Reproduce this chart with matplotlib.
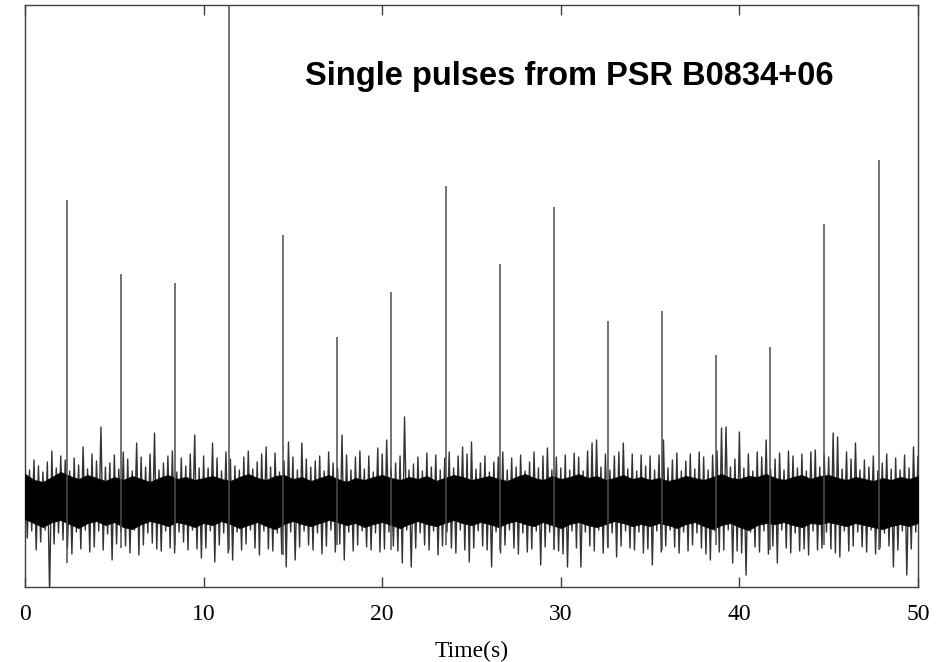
import numpy as np
import matplotlib
matplotlib.use('Agg')
from matplotlib import pyplot as plt

# pulse times (s), peak heights and the dip each pulse leaves under the band
pulse_t = [2.35, 5.37, 8.40, 11.42, 14.45, 17.47, 20.49, 23.57,
           26.60, 29.62, 32.64, 35.67, 38.69, 41.71, 44.74, 47.82]
pulse_peak = [30.0, 22.6, 21.7, 52.0, 26.5, 16.3, 20.8, 31.4,
              23.6, 29.3, 17.9, 18.9, 14.5, 15.3, 27.6, 34.0]
pulse_dip = [-6.3, -4.8, -4.5, -5.0, -5.5, -4.5, -5.0, -4.5,
             -5.0, -5.0, -4.8, -5.0, -4.5, -5.0, -4.5, -5.0]

# noise samples, read every 0.25 s (upper swing, then lower swing)
spike_t = [i * 0.25 for i in range(201)]
spike_hi = [
    4.3, 3.0, 4.0, 3.4, 2.8, 3.8, 4.9, 3.2, 4.4, 4.0, 2.9, 4.2, 3.5, 5.3, 3.1, 4.6, 3.9, 7.3, 3.3, 3.7,
    4.5, 3.1, 4.8, 4.1, 2.9, 5.7, 4.3, 3.3, 4.6, 6.7, 3.0, 3.7, 4.4, 4.9, 2.8, 4.2, 3.4, 4.6, 6.5, 3.2,
    4.4, 3.2, 5.7, 4.2, 2.9, 4.8, 4.1, 3.4, 3.0, 4.3, 4.9, 3.1, 3.8, 4.6, 5.3, 3.3, 4.7, 2.8, 3.9, 5.8,
    4.3, 3.0, 5.7, 4.1, 3.3, 3.9, 4.4, 2.9, 4.8, 3.7, 3.2, 6.5, 4.5, 3.0, 4.3, 4.9, 3.1, 4.4, 2.8, 5.2,
    4.6, 6.0, 3.1, 3.7, 4.4, 8.3, 3.0, 3.6, 4.3, 2.9, 4.7, 3.3, 4.5, 3.0, 4.2, 4.8, 3.2, 4.4, 5.3, 4.6,
    5.8, 3.1, 3.7, 4.4, 2.8, 3.8, 4.3, 4.8, 3.0, 4.2, 3.3, 4.5, 2.9, 3.8, 4.8, 3.2, 4.4, 5.2, 3.0, 4.3,
    3.2, 4.5, 3.0, 4.7, 4.3, 2.9, 4.9, 5.7, 6.0, 3.3, 4.6, 3.0, 4.4, 4.8, 5.7, 3.1, 4.6, 2.9, 4.5, 3.4,
    4.4, 3.0, 4.5, 6.0, 3.2, 4.0, 4.7, 2.9, 3.9, 4.6, 3.1, 4.8, 4.3, 3.0, 4.5, 4.9, 7.2, 7.3, 3.3, 4.1,
    6.8, 3.2, 4.6, 2.9, 4.8, 4.3, 6.0, 3.1, 4.1, 4.7, 3.0, 4.9, 4.4, 3.2, 4.6, 2.9, 4.8, 5.0, 3.3, 4.5,
    4.3, 6.7, 6.3, 3.1, 4.8, 4.1, 5.7, 3.0, 4.0, 3.3, 4.4, 2.9, 3.7, 4.6, 3.1, 4.2, 3.0, 4.5, 3.2, 5.3, 4.4]
spike_lo = [
    -3.8, -3.1, -5.0, -4.2, -3.0, -9.5, -4.4, -3.3, -4.0, -4.8, -5.4, -3.2, -4.9, -3.0, -5.2, -4.7, -3.1, -5.0, -3.4, -6.0,
    -4.4, -3.2, -4.6, -5.3, -3.0, -5.5, -4.5, -3.3, -4.3, -4.9, -5.1, -3.1, -4.8, -5.3, -3.2, -4.2, -5.0, -3.0, -4.9, -5.8,
    -4.8, -3.1, -6.2, -4.5, -3.3, -5.3, -6.0, -3.2, -5.0, -4.4, -3.0, -4.8, -5.5, -3.1, -4.9, -5.1, -3.3, -5.4, -6.7, -3.2,
    -6.0, -4.7, -3.1, -4.5, -5.0, -3.3, -5.4, -4.6, -3.0, -5.2, -4.4, -6.0, -3.2, -5.1, -4.5, -3.1, -4.7, -5.0, -3.3, -5.2,
    -4.9, -3.2, -4.6, -5.1, -6.3, -3.0, -6.7, -4.8, -3.3, -4.5, -5.0, -3.1, -5.5, -4.6, -3.2, -4.8, -5.3, -3.0, -5.0, -6.2,
    -4.8, -3.1, -4.6, -5.0, -6.7, -3.2, -5.3, -4.5, -3.0, -4.8, -5.4, -3.3, -5.2, -4.9, -3.1, -6.5, -4.7, -3.2, -4.8, -5.1,
    -5.4, -6.7, -3.1, -4.8, -6.7, -3.2, -4.6, -5.1, -3.0, -5.3, -4.7, -3.3, -5.7, -4.6, -3.1, -4.8, -5.0, -3.2, -5.3, -4.9,
    -6.5, -3.1, -5.2, -4.6, -3.0, -4.7, -5.3, -3.2, -5.1, -4.5, -3.3, -4.8, -5.4, -6.0, -3.1, -5.2, -5.0, -3.0, -6.3, -5.1,
    -5.3, -7.5, -3.2, -4.7, -5.2, -3.1, -5.4, -4.6, -6.3, -3.0, -4.8, -5.3, -3.3, -5.1, -4.9, -5.5, -3.1, -5.0, -4.8, -3.2,
    -4.9, -5.3, -5.7, -3.1, -5.1, -4.6, -3.2, -4.7, -5.2, -3.0, -5.4, -4.8, -3.3, -4.6, -6.7, -5.0, -3.1, -7.5, -4.9, -3.2, -4.6]

# solid black core of the noise band, read every 0.5 s
core_t = [i * 0.5 for i in range(101)]
core_top = [
    2.6, 2.0, 1.8, 2.3, 2.8, 2.4, 2.1, 2.5, 2.2, 1.9,
    2.3, 2.0, 2.4, 2.1, 1.8, 2.2, 2.5, 2.1, 2.3, 2.0,
    2.2, 2.4, 2.1, 1.9, 2.3, 2.6, 2.2, 2.0, 2.4, 2.5,
    2.1, 2.3, 1.9, 2.2, 2.5, 2.1, 1.8, 2.2, 2.0, 2.3,
    2.5, 2.2, 2.0, 2.3, 2.1, 2.4, 1.9, 2.2, 2.5, 2.3,
    2.0, 2.2, 2.4, 2.1, 1.9, 2.3, 2.6, 2.2, 2.0, 2.4,
    2.1, 2.3, 2.6, 2.2, 2.4, 2.0, 2.2, 2.5, 2.1, 2.3,
    2.0, 2.2, 1.9, 2.1, 2.4, 2.2, 2.0, 2.3, 2.6, 2.2,
    2.1, 2.4, 2.3, 2.6, 2.2, 2.0, 2.3, 2.5, 2.1, 2.4,
    2.5, 2.2, 2.0, 2.3, 2.1, 1.9, 2.2, 2.0, 2.3, 2.1, 2.4]
core_bot = [
    -1.9, -2.3, -2.7, -2.2, -2.0, -2.4, -2.8, -2.3, -2.1, -2.5,
    -2.2, -2.7, -2.9, -2.4, -2.1, -2.3, -2.6, -2.2, -2.4, -2.7,
    -2.3, -2.5, -2.1, -2.4, -2.8, -2.5, -2.2, -2.6, -2.9, -2.4,
    -2.1, -2.4, -2.6, -2.3, -2.0, -2.2, -2.5, -2.3, -2.7, -2.4,
    -2.2, -2.5, -2.8, -2.4, -2.1, -2.4, -2.6, -2.3, -2.0, -2.3,
    -2.5, -2.2, -2.4, -2.7, -2.3, -2.1, -2.4, -2.6, -2.2, -2.5,
    -2.8, -2.4, -2.2, -2.5, -2.7, -2.4, -2.1, -2.3, -2.6, -2.4,
    -2.6, -2.3, -2.5, -2.8, -2.4, -2.2, -2.6, -2.9, -2.5, -2.3,
    -2.7, -3.0, -2.5, -2.3, -2.4, -2.2, -2.5, -2.7, -2.3, -2.4,
    -2.2, -2.4, -2.6, -2.3, -2.5, -2.7, -2.9, -2.6, -2.4, -2.6, -2.3]

title = 'Single pulses from PSR B0834+06'
xticks = [0, 10, 20, 30, 40, 50]


def main():
    fig = plt.figure(figsize=(9.45, 6.62), dpi=100)
    ax = fig.add_axes([0.0265, 0.1133, 0.9449, 0.8791])

    # zig-zag through the samples: upper at t, lower a half step later
    zx = []
    zy = []
    for t, hi, lo in zip(spike_t, spike_hi, spike_lo):
        zx += [t, t + 0.125]
        zy += [hi, lo]
    ax.plot(zx, zy, color='0.2', lw=1.0, zorder=2)
    ax.fill_between(core_t, core_bot, core_top, color='black', lw=0.6,
                    edgecolor='black', zorder=3)
    ax.vlines(pulse_t, pulse_dip, pulse_peak, color='0.3', lw=1.1, zorder=4)

    ax.set_xlim(0, 50)
    ax.set_ylim(-8.7, 49.5)
    ax.set_xticks(xticks)
    ax.set_yticks([])
    ax.tick_params(axis='x', direction='in', length=7, width=1, top=True,
                   color='0.25', labelsize=17, pad=12)
    for lab in ax.get_xticklabels():
        lab.set_family('Liberation Serif')
    for sp in ax.spines.values():
        sp.set_color('0.25')
        sp.set_linewidth(1.0)

    ax.set_xlabel('Time(s)', family='Liberation Serif', fontsize=17,
                  labelpad=12)
    ax.text(0.313, 0.878, title, transform=ax.transAxes,
            family='Liberation Sans', weight='bold', fontsize=23.5,
            ha='left', va='center', zorder=6)

    fig.savefig('out.png', dpi=100)


if __name__ == '__main__':
    main()
